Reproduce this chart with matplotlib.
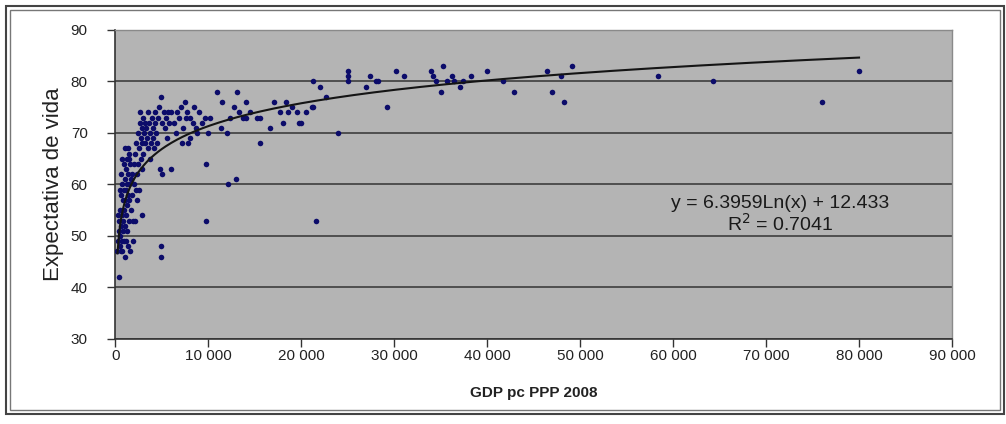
import numpy as np
import matplotlib
matplotlib.use("Agg")
import matplotlib.pyplot as plt
from matplotlib.patches import Rectangle
from matplotlib.ticker import FuncFormatter

plt.rcParams['font.family'] = ['Liberation Sans', 'DejaVu Sans']

# GDP per capita (PPP, 2008) and life expectancy
gdp_low = [210, 300, 350, 400, 400, 450, 500, 500, 550, 600, 600, 650, 700, 700,
           750, 800, 800, 850, 900, 900, 950, 1000, 1000, 1000, 1050, 1100, 1100,
           1100, 1150, 1200, 1200, 1200, 1250, 1300, 1300, 1350, 1400, 1400, 1450,
           1500, 1500, 700, 500, 300, 900, 1300, 1000, 600]
life_low = [47, 49, 51, 42, 53, 48, 50, 55, 47, 52, 58, 49, 54, 60,
            47, 51, 57, 53, 49, 59, 55, 46, 52, 61, 57, 49, 54,
            63, 59, 51, 56, 65, 60, 48, 58, 62, 53, 66, 57,
            60, 65, 65, 59, 54, 64, 67, 67, 62]

gdp_mid = [1600, 1700, 1800, 1800, 1900, 1900, 2000, 2000, 2100, 2100, 2200, 2200,
           2300, 2400, 2400, 2500, 2500, 2600, 2600, 2700, 2700, 2800, 2900, 2900,
           3000, 3000, 3100, 3200, 3200, 3300, 3400, 3500, 3500, 1700, 2300, 2800, 1600,
           3600, 3700, 3800, 3900, 4000, 4000, 4200, 4300, 4400, 4500, 4600, 4700,
           4800, 4900, 4900, 4900, 5000, 5000, 5200, 5300, 5400, 5500, 5600, 5800,
           6000, 6000, 4100, 3700]
life_mid = [47, 55, 58, 62, 53, 49, 60, 64, 53, 66, 59, 68,
            62, 64, 70, 59, 67, 74, 72, 65, 69, 71, 54, 68,
            73, 66, 70, 68, 72, 71, 69, 74, 67, 61, 57, 63, 64,
            72, 70, 68, 73, 71, 69, 74, 72, 70, 68, 73, 75,
            63, 48, 46, 77, 62, 72, 74, 71, 73, 69, 74, 72,
            63, 74, 67, 65]

gdp_upper = [6300, 6500, 6800, 7000, 7200, 7300, 7500, 7600, 7800, 8000, 8000, 8300,
             8500, 8800, 9000, 9300, 9600, 9700, 9700, 9900, 6600, 7700, 8700,
             10200, 10900, 11300, 11500, 12000, 12100, 12300, 12700, 13000, 13100,
             13300, 13700, 14000, 14500, 15200, 15500, 15500, 16600, 17100, 17700,
             18000, 18300, 18600, 19000, 19500, 19700, 20000, 14000]
life_upper = [72, 70, 73, 75, 68, 71, 76, 73, 68, 69, 73, 72,
              75, 70, 74, 72, 73, 64, 53, 70, 74, 74, 71,
              73, 78, 71, 76, 70, 60, 73, 75, 61, 78,
              74, 73, 76, 74, 73, 68, 73, 71, 76, 74,
              72, 76, 74, 75, 74, 72, 72, 73]

gdp_high = [20500, 21100, 21300, 21300, 21600, 22000, 22700, 23900, 25000, 25000,
            25000, 26900, 27400, 28000, 28200, 29200, 30200, 31000, 34000, 34200,
            34500, 35000, 35200, 35700, 36200, 36400, 37100, 37400, 38200, 40000,
            41700, 42900, 46400, 47000, 47900, 48300, 49100, 58400, 64300, 76000, 80000]
life_high = [74, 75, 75, 80, 53, 79, 77, 70, 82, 81,
             80, 79, 81, 80, 80, 75, 82, 81, 82, 81,
             80, 78, 83, 80, 81, 80, 79, 80, 81, 82,
             80, 78, 82, 78, 81, 76, 83, 81, 80, 76, 82]

# logarithmic trendline as reported on the chart
trend_a = 6.3959
trend_b = 12.433
trend_label = "y = 6.3959Ln(x) + 12.433\nR$^2$ = 0.7041"

gdp = np.array(gdp_low + gdp_mid + gdp_upper + gdp_high, dtype=float)
life = np.array(life_low + life_mid + life_upper + life_high, dtype=float)

fig = plt.figure(figsize=(10.06, 4.24), dpi=100)
ax = fig.add_axes([0.1148, 0.2005, 0.8315, 0.7288])
ax.set_facecolor('#b4b4b4')

ax.scatter(gdp, life, s=16, color='#0c0c6a', zorder=3, linewidths=0)

xt = np.linspace(gdp.min(), gdp.max(), 400)
ax.plot(xt, trend_a * np.log(xt) + trend_b, color='#151515', lw=1.5, zorder=4)

ax.text(71500, 54.0, trend_label, ha='center', va='center', fontsize=14,
        color='#1a1a1a', linespacing=1.05, zorder=5)

ax.set_xlim(0, 90000)
ax.set_ylim(30, 90)
ax.set_xticks(np.arange(0, 90001, 10000))
ax.set_yticks(np.arange(30, 91, 10))
ax.xaxis.set_major_formatter(FuncFormatter(lambda v, p: f"{int(v):,}".replace(",", " ")))
ax.yaxis.grid(True, color='#333333', lw=1.1)
ax.set_axisbelow(True)

ax.tick_params(axis='both', direction='out', length=6, width=1, color='#333333',
               labelsize=11, labelcolor='#222222')
ax.tick_params(axis='x', pad=1.5)
ax.tick_params(axis='y', pad=14)
for side in ['left', 'bottom']:
    ax.spines[side].set_color('#333333')
    ax.spines[side].set_linewidth(1.2)
for side in ['top', 'right']:
    ax.spines[side].set_color('#8a8a8a')
    ax.spines[side].set_linewidth(1.0)

ax.set_xlabel("GDP pc PPP 2008", fontsize=11, fontweight='bold', labelpad=16, color='#222222')
ax.set_ylabel("Expectativa de vida", fontsize=16, labelpad=5, color='#222222')

# double frame around the chart
fig.patches.append(Rectangle((6 / 1006, 1 - 414 / 424), 998 / 1006, 408 / 424,
                             transform=fig.transFigure, fill=False, ec='#444444', lw=1.5))
fig.patches.append(Rectangle((10 / 1006, 1 - 410 / 424), 990 / 1006, 400 / 424,
                             transform=fig.transFigure, fill=False, ec='#777777', lw=1.0))

fig.savefig("out.png", dpi=100)
